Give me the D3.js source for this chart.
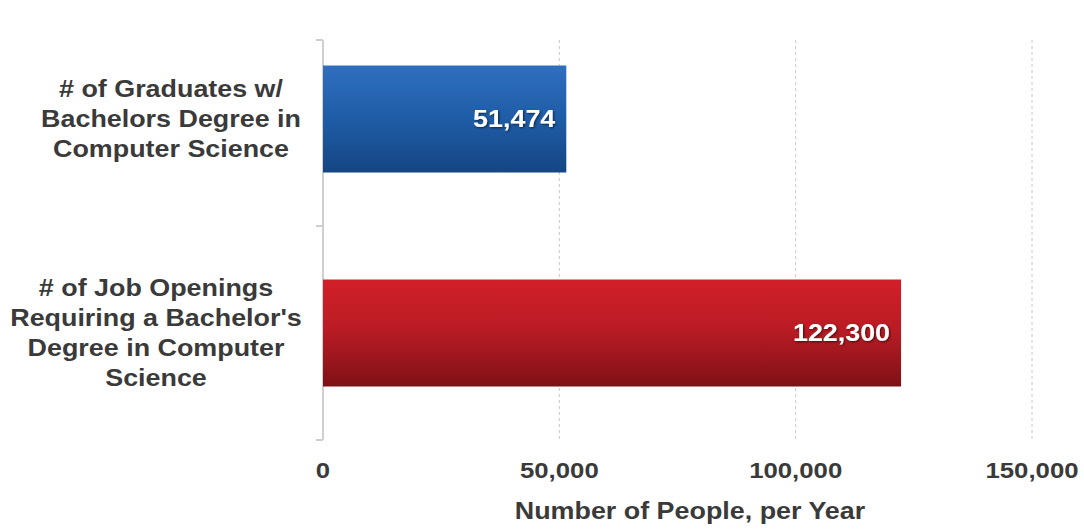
<!DOCTYPE html>
<html>
<head>
<meta charset="utf-8">
<script src="https://cdn.jsdelivr.net/npm/d3@7"></script>
<style>
  body { margin: 0; background: #fff; }
  svg { display: block; font-family: "Liberation Sans", Arial, sans-serif; }
</style>
</head>
<body>
<svg width="1084" height="530"></svg>
<script>
const categories = ["graduates", "openings"]
const categoryLines = [
  ["# of Graduates w/", "Bachelors Degree in", "Computer Science"],
  ["# of Job Openings", "Requiring a Bachelor's", "Degree in Computer", "Science"]
]
const values = [51474, 122300]
const tickValues = [0, 50000, 100000, 150000]
const axisTitle = "Number of People, per Year"

const svg = d3.select("svg")
const plotTop = 40, plotBottom = 440, plotLeft = 323, plotRight = 1032
const labelCenters = [171, 156]
const stretch = 1.12   // the original text is a little wide
const fontSize = 24

const x = d3.scaleLinear().domain([0, 150000]).range([plotLeft, plotRight])
const y = d3.scaleBand().domain(categories).range([12, plotBottom])
    .paddingInner(0.5).paddingOuter(0.25)

const defs = svg.append("defs")
function gradient(id, stops) {
  let g = defs.append("linearGradient").attr("id", id)
      .attr("x1", 0).attr("y1", 0).attr("x2", 0).attr("y2", 1)
  stops.forEach(([o, c]) => g.append("stop").attr("offset", o).attr("stop-color", c))
}
gradient("blue", [[0, "#2f6fbe"], [0.5, "#1f5ca7"], [1, "#144683"]])
gradient("red", [[0, "#d21f29"], [0.45, "#bb1c24"], [1, "#7e1116"]])
const fills = ["url(#blue)", "url(#red)"]

let shadow = defs.append("filter").attr("id", "shadow")
    .attr("x", "-10%").attr("y", "-20%").attr("width", "120%").attr("height", "140%")
shadow.append("feDropShadow").attr("dx", 1).attr("dy", 1)
    .attr("stdDeviation", 1).attr("flood-color", "#000").attr("flood-opacity", 0.6)

function wideText(parent, px, py) {
  return parent.append("text")
      .attr("transform", `translate(${px},${py}) scale(${stretch},1)`)
      .attr("font-size", fontSize).attr("font-weight", "bold")
      .attr("dy", "0.35em")
}

// grid lines
svg.append("g").selectAll("line")
    .data(tickValues.slice(1))
    .enter().append("line")
    .attr("x1", d => x(d)).attr("x2", d => x(d))
    .attr("y1", plotTop).attr("y2", plotBottom)
    .attr("stroke", "#c8c8c8").attr("stroke-width", 1)
    .attr("stroke-dasharray", "3,3")

// left axis line and ticks
svg.append("line")
    .attr("x1", plotLeft).attr("x2", plotLeft).attr("y1", plotTop).attr("y2", plotBottom)
    .attr("stroke", "#cfcfcf").attr("stroke-width", 2)
let boundary = (y(categories[0]) + y.bandwidth() + y(categories[1])) / 2
svg.append("g").selectAll("line")
    .data([plotTop, boundary, plotBottom])
    .enter().append("line")
    .attr("x1", plotLeft - 7).attr("x2", plotLeft)
    .attr("y1", d => d).attr("y2", d => d)
    .attr("stroke", "#cfcfcf").attr("stroke-width", 2)

// bars
svg.append("g").selectAll("rect")
    .data(categories)
    .enter().append("rect")
    .attr("x", plotLeft)
    .attr("y", d => y(d))
    .attr("width", (d, i) => x(values[i]) - plotLeft)
    .attr("height", y.bandwidth())
    .attr("fill", (d, i) => fills[i])

// value labels
categories.forEach((c, i) => {
  wideText(svg, x(values[i]) - 11, y(c) + y.bandwidth() / 2)
    .attr("text-anchor", "end")
    .attr("fill", "#fff")
    .attr("filter", "url(#shadow)")
    .text(d3.format(",")(values[i]))
})

// category labels
const lineHeight = 30
categories.forEach((c, i) => {
  let lines = categoryLines[i]
  let cy = y(c) + y.bandwidth() / 2
  let t = svg.append("text")
      .attr("transform", `translate(${labelCenters[i]},${cy}) scale(${stretch},1)`)
      .attr("text-anchor", "middle")
      .attr("fill", "#3a3a3a")
      .attr("font-size", fontSize).attr("font-weight", "bold")
  lines.forEach((l, j) => {
    t.append("tspan")
      .attr("x", 0)
      .attr("y", (j - (lines.length - 1) / 2) * lineHeight)
      .attr("dy", "0.35em")
      .text(l)
  })
})

// x axis labels
tickValues.forEach(v => {
  wideText(svg, x(v), 470)
    .attr("text-anchor", "middle")
    .attr("fill", "#3a3a3a")
    .attr("font-size", 23)
    .text(d3.format(",")(v))
})

wideText(svg, 690, 511)
    .attr("text-anchor", "middle")
    .attr("fill", "#3a3a3a")
    .text(axisTitle)
</script>
</body>
</html>
